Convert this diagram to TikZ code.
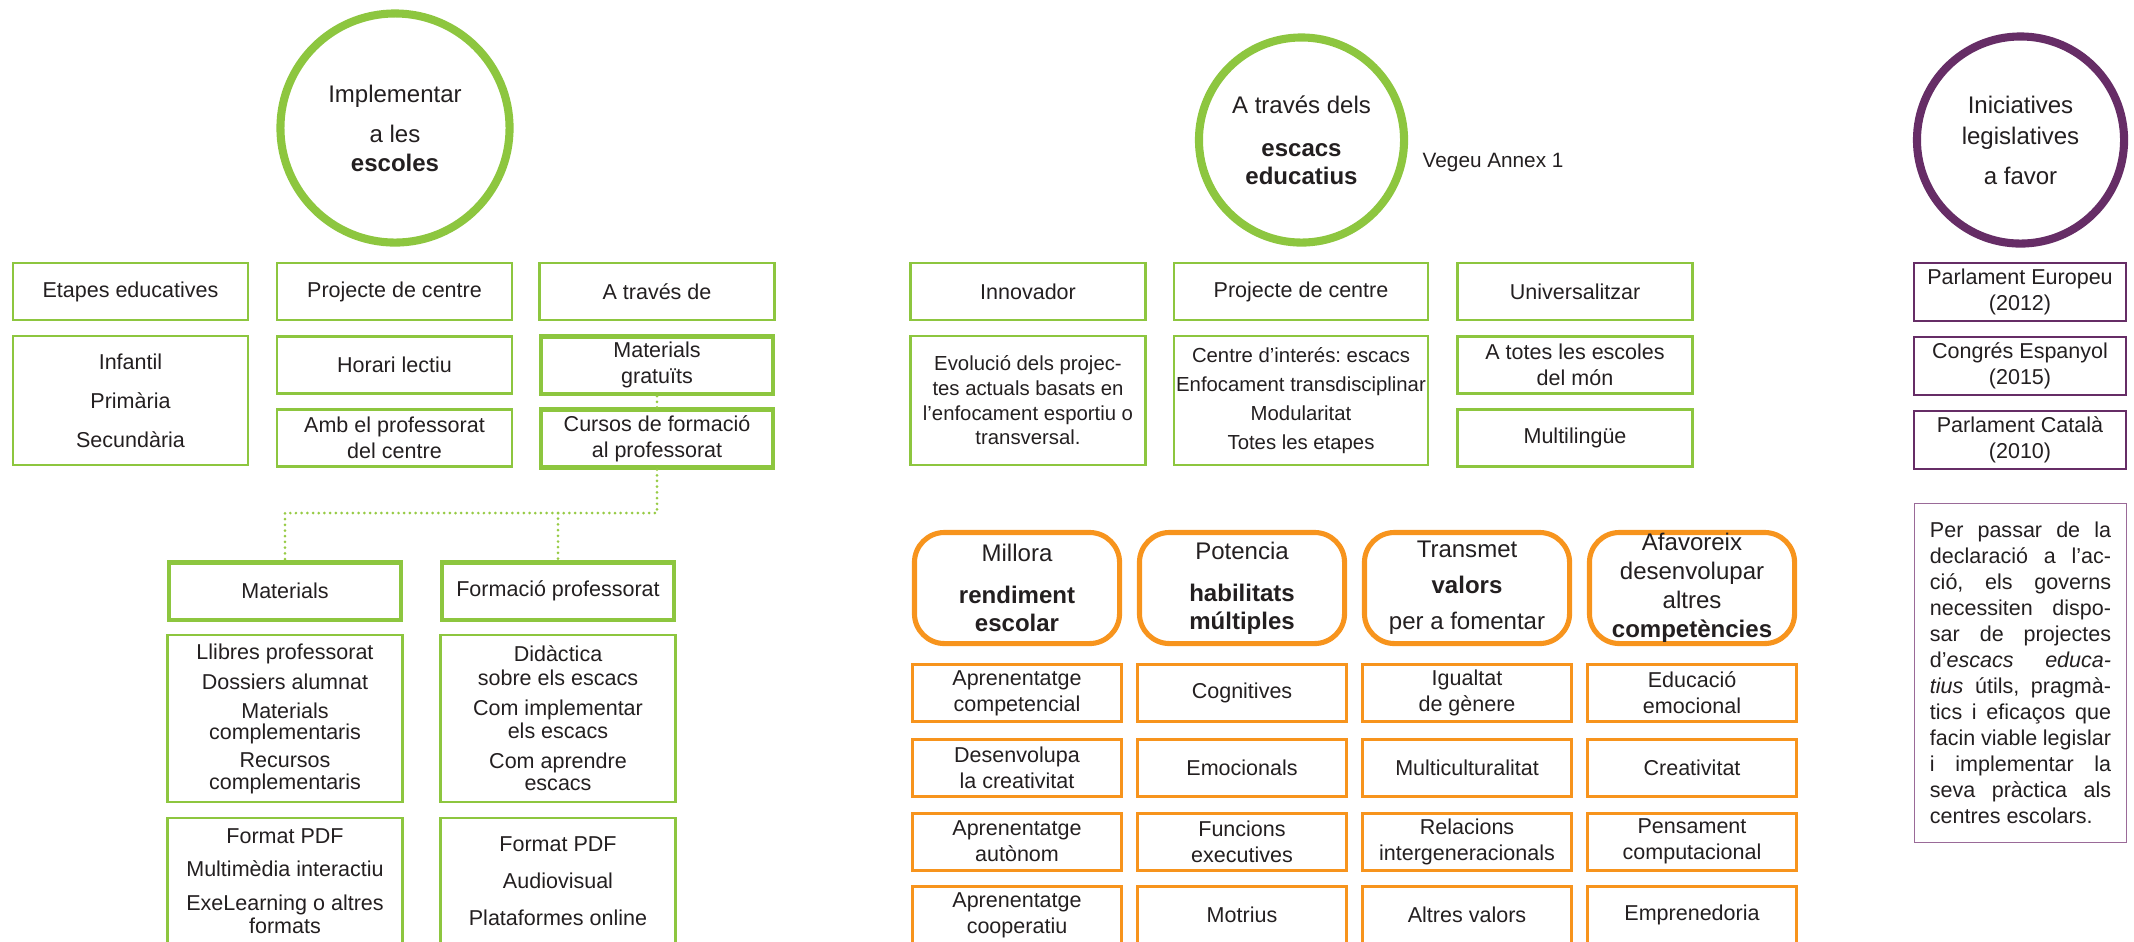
\documentclass[tikz,border=0pt]{standalone}
\usepackage{fontspec}
\setmainfont{Liberation Sans}
\frenchspacing
\definecolor{escgreen}{HTML}{8DC63F}
\definecolor{escdots}{HTML}{97CB45}
\definecolor{escorange}{HTML}{F7941D}
\definecolor{escpurple}{HTML}{662D66}
\definecolor{esclilac}{HTML}{9A6A98}
\definecolor{escink}{HTML}{231F20}
\newcommand\txnorm{\fontsize{6.12pt}{7.4pt}\selectfont}
\newcommand\txbig{\fontsize{6.83pt}{8.25pt}\selectfont}
\newcommand\jline[1]{\makebox[\linewidth][s]{#1}}

\begin{document}
\begin{tikzpicture}[
  x=0.01cm, y=-0.01cm,
  every node/.style={text=escink, font=\txnorm, align=center, inner sep=0pt},
  gbox/.style={draw=escgreen, line width=0.7pt, minimum width=2.35cm, minimum height=0.57cm},
  gthick/.style={gbox, line width=1.3pt, minimum width=2.32cm, minimum height=0.575cm},
  ring/.style={circle, draw=escgreen, line width=2.3pt, font=\txbig},
  obox/.style={draw=escorange, line width=0.85pt, minimum width=2.09cm, minimum height=0.57cm},
  ohead/.style={draw=escorange, line width=1.45pt, rounded corners=0.3cm, minimum width=2.05cm, minimum height=1.11cm, font=\txbig},
  pbox/.style={draw=escpurple, line width=0.6pt, minimum width=2.12cm, minimum height=0.58cm},
  dotlink/.style={draw=escdots, line width=0.85pt, line cap=round, dash pattern=on 0pt off 1.62pt}
]
\useasboundingbox (0,0) rectangle (2134,941);
\clip (0,0) rectangle (2134,941);

% implementar a les escoles
\node[ring, minimum size=2.29cm] (escoles) at (395,128) {Implementar\\[0.11cm]a les\\\textbf{escoles}};
\node[gbox] (etapes) at (130.5,291.5) {Etapes educatives};
\node[gbox] (projA) at (394.5,291.5) {Projecte de centre};
\node[gbox] (atraves) at (657,291.5) {A través de};
\node[gbox, minimum height=1.285cm] (infantil) at (130.5,400.5) {Infantil\\[0.13cm]Primària\\[0.13cm]Secundària};
\node[gbox] (horari) at (394.5,365) {Horari lectiu};
\node[gbox] (amb) at (394.5,438) {Amb el professorat\\del centre};
\node[gthick] (matgrat) at (657,365) {Materials\\gratuïts};
\node[gthick] (cursos) at (657,438.5) {Cursos de formació\\al professorat};
\node[gthick] (materials) at (285,591) {Materials};
\node[gthick] (formacio) at (558,591) {Formació professorat};
\node[gbox, minimum height=1.665cm] (llibres) at (285,718.5) {Llibres professorat\\[0.04cm]Dossiers alumnat\\[0.03cm]Materials\\[-0.05cm]complementaris\\[0.02cm]Recursos\\[-0.04cm]complementaris};
\node[gbox, minimum height=1.665cm] (didactica) at (558,718.5) {Didàctica\\[-0.02cm]sobre els escacs\\[0.04cm]Com implementar\\[-0.03cm]els escacs\\[0.04cm]Com aprendre\\[-0.04cm]escacs};
\node[gbox, minimum height=1.255cm] (pdfA) at (285,881) {Format PDF\\[0.07cm]Multimèdia interactiu\\[0.08cm]ExeLearning o altres\\[-0.03cm]formats};
\node[gbox, minimum height=1.255cm] (pdfB) at (558,881) {Format PDF\\[0.11cm]Audiovisual\\[0.11cm]Plataformes online};

\coordinate (split) at (657,513);
\draw[dotlink] (matgrat) -- (cursos);
\draw[dotlink] (cursos) -- (split) -| (materials);
\draw[dotlink] (split -| formacio) -- (formacio);

% escacs educatius
\node[ring, minimum size=2.05cm] (escacs) at (1301.5,140) {A través dels\\[0.14cm]\textbf{escacs}\\[-0.01cm]\textbf{educatius}};
\node[anchor=west, font=\fontsize{5.9pt}{7pt}\selectfont] (annex) at (1422,162) {Vegeu Annex 1};
\node[gbox] (innov) at (1028,291.5) {Innovador};
\node[gbox, minimum width=2.535cm] (projB) at (1301,291.5) {Projecte de centre};
\node[gbox] (univ) at (1575,291.5) {Universalitzar};
\node[gbox, minimum height=1.285cm, font=\fontsize{5.78pt}{7.0pt}\selectfont] (evol) at (1028,400.5) {Evolució dels projec-\\tes actuals basats en\\l’enfocament esportiu o\\transversal.};
\node[gbox, minimum width=2.535cm, minimum height=1.285cm, font=\fontsize{5.78pt}{8.25pt}\selectfont] (centre) at (1301,400.5) {Centre d’interés: escacs\\Enfocament transdisciplinar\\Modularitat\\Totes les etapes};
\node[gbox] (atotes) at (1575,365) {A totes les escoles\\del món};
\node[gbox] (multi) at (1575,438) {Multilingüe};

% beneficis
\node[ohead] (millora) at (1017,588) {Millora\\[0.13cm]\textbf{rendiment}\\[-0.01cm]\textbf{escolar}};
\node[ohead] (potencia) at (1242,588) {Potencia\\[0.13cm]\textbf{habilitats}\\[-0.01cm]\textbf{múltiples}};
\node[ohead] (transmet) at (1467,588) {Transmet\\[0.07cm]\textbf{valors}\\[0.07cm]per a fomentar};
\node[ohead] (afavoreix) at (1692,588) {Afavoreix\\desenvolupar\\altres\\\textbf{competències}};

\node[obox] (competencial) at (1017,693) {Aprenentatge\\competencial};
\node[obox] (desenvolupa) at (1017,768) {Desenvolupa\\la creativitat};
\node[obox] (autonom) at (1017,841.5) {Aprenentatge\\autònom};
\node[obox] (cooperatiu) at (1017,915) {Aprenentatge\\cooperatiu};
\node[obox] (cognitives) at (1242,693) {Cognitives};
\node[obox] (emocionals) at (1242,768) {Emocionals};
\node[obox] (funcions) at (1242,841.5) {Funcions\\executives};
\node[obox] (motrius) at (1242,915) {Motrius};
\node[obox] (igualtat) at (1467,693) {Igualtat\\de gènere};
\node[obox] (multicult) at (1467,768) {Multiculturalitat};
\node[obox] (relacions) at (1467,841.5) {Relacions\\intergeneracionals};
\node[obox] (altres) at (1467,915) {Altres valors};
\node[obox] (educacio) at (1692,693) {Educació\\emocional};
\node[obox] (creativitat) at (1692,768) {Creativitat};
\node[obox] (pensament) at (1692,841.5) {Pensament\\computacional};
\node[obox] (emprenedoria) at (1692,915) {Emprenedoria};

% iniciatives legislatives
\node[ring, draw=escpurple, minimum size=2.07cm] (legis) at (2020.5,140) {Iniciatives\\[0.02cm]legislatives\\[0.11cm]a favor};
\node[pbox] (europeu) at (2020,292) {Parlament Europeu\\(2012)};
\node[pbox] (congres) at (2020,366) {Congrés Espanyol\\(2015)};
\node[pbox] (catala) at (2020,440) {Parlament Català\\(2010)};
\node[draw=esclilac, line width=0.35pt, minimum width=2.12cm, minimum height=3.39cm] (crida) at (2020.5,673) {\parbox{1.81cm}{\txnorm
\jline{Per passar de la}\\
\jline{declaració a l’ac-}\\
\jline{ció, els governs}\\
\jline{necessiten dispo-}\\
\jline{sar de projectes}\\
\jline{d’\textit{escacs} \textit{educa-}}\\
\jline{\textit{tius} útils, pragmà-}\\
\jline{tics i eficaços que}\\
\jline{facin viable legislar}\\
\jline{i implementar la}\\
\jline{seva pràctica als}\\
centres escolars.}};
\end{tikzpicture}
\end{document}
